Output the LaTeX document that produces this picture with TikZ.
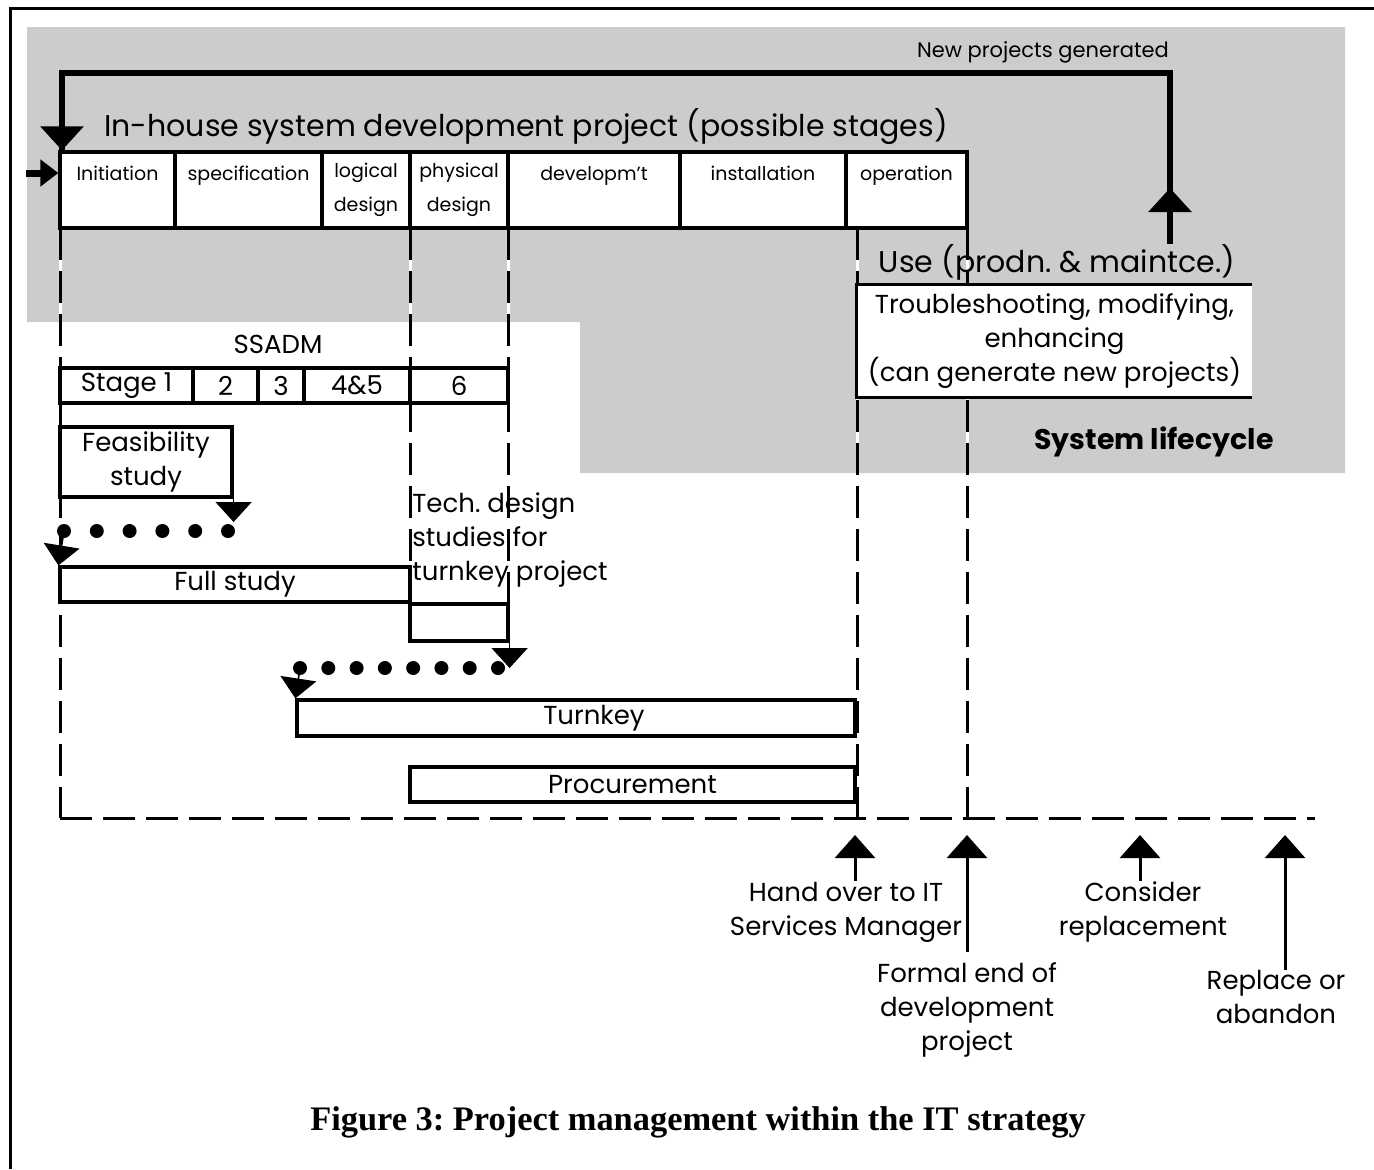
\documentclass[tikz,border=0pt]{standalone}
\usepackage{fontspec}
\setmainfont{Poppins}
\newfontfamily\capfont{Liberation Serif}
\usetikzlibrary{arrows.meta}
\definecolor{halftone}{gray}{0.80}
\frenchspacing
\begin{document}
\begin{tikzpicture}[x=0.5pt,y=-0.5pt,
  box/.style={draw=black, fill=white, line width=1.6pt, inner sep=0pt},
  stagebox/.style={box, minimum height=38pt, align=center, font=\fontsize{9.5}{17}\selectfont},
  ssbox/.style={box, minimum height=17.5pt, font=\fontsize{13}{15}\selectfont},
  lbl/.style={align=center, inner sep=0pt, font=\fontsize{13}{17}\selectfont},
  dashline/.style={line width=1.5pt, dash pattern=on 16pt off 5.5pt, preaction={draw=white, solid, line width=1.5pt}},
  loopline/.style={line width=3pt},
  looptip/.style={-{Triangle[width=21pt,length=12pt]}},
  tipdown/.style={line width=0.8pt, -{Triangle[width=18pt,length=10pt]}},
  uparrow/.style={line width=1.5pt, -{Triangle[width=20pt,length=11.5pt]}},
  dotrow/.style={line width=7pt, line cap=round, dash pattern=on 0pt off #1},
]
\useasboundingbox (0,0) rectangle (1374,1169);
\fill[halftone] (27,27) -- (1345,27) -- (1345,473) -- (580,473) -- (580,322) -- (27,322) -- cycle;
\draw[line width=1.5pt] (10,1169) -- (10,8) -- (1374,8);

\node[inner sep=0pt, font=\fontsize{10.5}{12}\selectfont] (newproj) at (1043,52) {New projects generated};
\node[inner sep=0pt, font=\fontsize{15}{18}\selectfont] (title) at (526,127) {In-house system development project (possible stages)};

\coordinate (handtop) at (857,228);
\coordinate (handbase) at (857,818);
\coordinate (endbase) at (967,818);
\coordinate (leftbase) at (60,818);
\coordinate (rightend) at (1315,818);

\draw[dashline] (60,228) -- (leftbase);
\draw[dashline] (leftbase) -- (rightend);
\draw[dashline] (410,228) -- (410,641);
\draw[dashline] (508,228) -- (508,604);
\draw[dashline] (handtop) -- (handbase);
\draw[dashline] (967,228) -- (endbase);

\node[stagebox, minimum width=57.5pt] (init) at (117.5,190) {Initiation\\~};
\node[stagebox, minimum width=73.5pt] (spec) at (248.5,190) {specification\\~};
\node[stagebox, minimum width=44pt] (logic) at (366,190) {logical\\design};
\node[stagebox, minimum width=49pt] (phys) at (459,190) {physical\\design};
\node[stagebox, minimum width=86pt] (devel) at (594,190) {developm't\\~};
\node[stagebox, minimum width=83pt] (install) at (763,190) {installation\\~};
\node[stagebox, minimum width=60.5pt] (oper) at (906.5,190) {operation\\~};

\coordinate (entry) at (26,173);
\draw[line width=3.5pt, -{Triangle[width=13pt,length=9pt]}] (entry) -- (entry -| init.west);

\node[lbl, font=\fontsize{15}{18}\selectfont] (use) at (1057,262) {Use (prodn. \& maintce.)};
\node[fill=white, minimum width=197.5pt, minimum height=56pt, inner sep=0pt, align=center, font=\fontsize{13}{17}\selectfont] (trouble) at (1054.5,341) {Troubleshooting, modifying,\\enhancing\\(can generate new projects)};
\draw[line width=1.8pt] (trouble.north east) -- (trouble.north west) -- (trouble.south west) -- (trouble.south east);
\node[inner sep=0pt, font=\bfseries\fontsize{14.2}{17}\selectfont] (lifecycle) at (1154,442) {System lifecycle};

\coordinate (loopR) at (1170,73);
\coordinate (loopL) at (62,73);
\coordinate (newtip) at (1170,188);
\draw[loopline] (use.north -| loopR) -- (loopR) -- (loopL) -- (loopL |- init.north);
\draw[loopline, looptip] (use.north -| loopR) -- (newtip);
\draw[loopline, looptip] (loopL) -- (loopL |- init.north);

\node[lbl] (ssadm) at (278,344) {SSADM};
\node[ssbox, minimum width=66.5pt] (ss1) at (126.5,385.5) {Stage 1};
\node[ssbox, minimum width=32.5pt] (ss2) at (225.5,385.5) {2};
\node[ssbox, minimum width=23pt] (ss3) at (281,385.5) {3};
\node[ssbox, minimum width=53pt] (ss45) at (357,385.5) {4\&5};
\node[ssbox, minimum width=49pt] (ss6) at (459,385.5) {6};

\node[box, minimum width=86pt, minimum height=35pt, align=center, font=\fontsize{13}{17}\selectfont] (feas) at (146,462) {Feasibility\\study};
\node[box, minimum width=175pt, minimum height=17.5pt, font=\fontsize{13}{15}\selectfont] (full) at (235,584.5) {Full study};
\node[box, minimum width=49pt, minimum height=18.5pt] (tech) at (459,622.5) {};
\node[lbl, align=left, anchor=north west] (techtext) at (412,492) {Tech. design\\studies for\\turnkey project};
\node[box, minimum width=279pt, minimum height=18pt, font=\fontsize{13}{15}\selectfont] (turnkey) at (576,718) {\hspace{18pt}Turnkey};
\node[box, minimum width=222.5pt, minimum height=17.5pt, font=\fontsize{13}{15}\selectfont] (procure) at (632.5,784.5) {Procurement\hspace{24pt}};

\coordinate (fdA) at (228,531);
\coordinate (fdB) at (64,531);
\draw[tipdown, shorten >=4.5pt] (feas.south east) -- (feas.south east |- fdA);
\draw[dotrow=16.4pt] (fdA) -- (fdB);
\draw[tipdown] (fdB) -- (full.north west);

\coordinate (tdA) at (498,668);
\coordinate (tdB) at (300,668);
\draw[tipdown] (tech.south east) -- (tech.south east |- tdA);
\draw[dotrow=14.14pt] (tdA) -- (tdB);
\draw[tipdown] (tdB) -- (turnkey.north west);

\node[lbl] (hand) at (846,912) {Hand over to IT\\Services Manager};
\node[lbl] (formal) at (967,1010) {Formal end of\\development\\project};
\node[lbl] (consider) at (1143,912) {Consider\\replacement};
\node[lbl] (replace) at (1276,997) {Replace or\\abandon};

\coordinate (handtip) at (855,835);
\coordinate (endtip) at (967,835);
\coordinate (considertip) at (1140,835);
\coordinate (replacetip) at (1285,835);
\draw[uparrow] (hand.north -| handtip) -- (handtip);
\draw[uparrow] ([yshift=5pt]formal.north -| endtip) -- (endtip);
\draw[uparrow] (consider.north -| considertip) -- (considertip);
\draw[uparrow] (replace.north -| replacetip) -- (replacetip);

\node[inner sep=0pt, font=\capfont\bfseries\fontsize{17.2}{20}\selectfont] (caption) at (698,1122) {Figure 3: Project management within the IT strategy};
\end{tikzpicture}
\end{document}
